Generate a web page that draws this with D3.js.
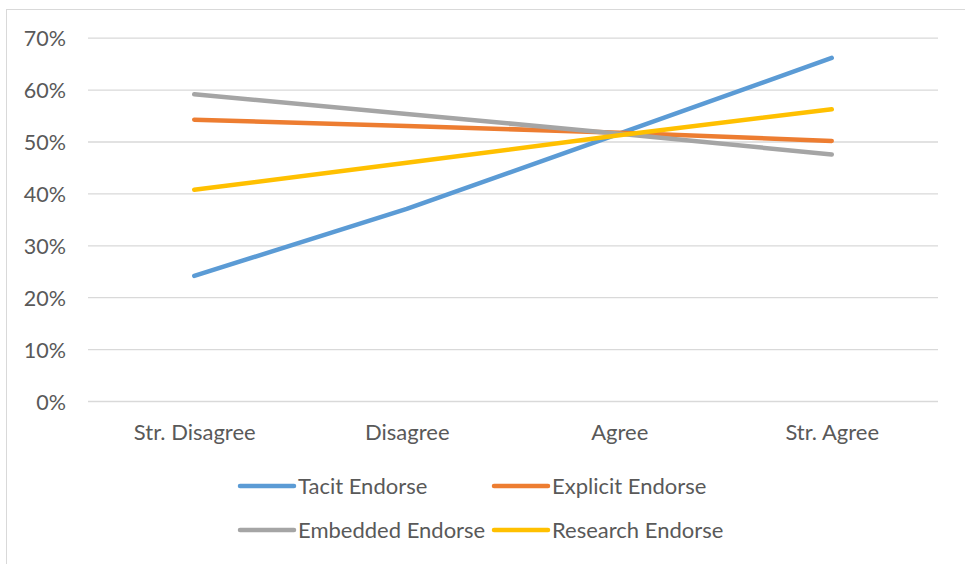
<!DOCTYPE html>
<html>
<head>
<meta charset="utf-8">
<script src="https://cdn.jsdelivr.net/npm/d3@7"></script>
<style>
  html, body { margin: 0; padding: 0; background: #fff; }
  svg { display: block; }
  text { font-family: Lato, "Open Sans", sans-serif; fill: #595959; }
</style>
</head>
<body>
<svg id="chart" width="965" height="564"></svg>
<script>
// Response categories along the x axis
const categories = ["Str. Disagree", "Disagree", "Agree", "Str. Agree"];

// Share of respondents (%) per category for each endorsement type
const tacit     = [24.2, 37.1, 51.6, 66.2];
const explicit  = [54.3, 53.1, 51.8, 50.2];
const embedded  = [59.2, 55.4, 51.6, 47.6];
const research  = [40.8, 46.0, 51.3, 56.3];

const seriesNames = ["Tacit Endorse", "Explicit Endorse", "Embedded Endorse", "Research Endorse"];
const seriesColors = ["#5B9BD5", "#ED7D31", "#A5A5A5", "#FFC000"];
const yTicks = [0, 10, 20, 30, 40, 50, 60, 70];

const series = [tacit, explicit, embedded, research].map((values, i) => ({
  name: seriesNames[i], color: seriesColors[i], values
}));

const FONT = "Lato, 'Open Sans', sans-serif";
const svg = d3.select("#chart");
const plot = { left: 88, right: 938, top: 38.2, bottom: 401.5 };

// Chart frame
svg.append("rect")
  .attr("x", 6.5).attr("y", 9.5)
  .attr("width", 1000).attr("height", 600)
  .attr("fill", "none").attr("stroke", "#D9D9D9").attr("stroke-width", 1);

const x = d3.scalePoint().domain(categories).range([plot.left, plot.right]).padding(0.5);
const y = d3.scaleLinear().domain([0, 70]).range([plot.bottom, plot.top]);

// Horizontal gridlines
svg.append("g")
  .selectAll("line").data(yTicks).join("line")
  .attr("x1", plot.left).attr("x2", plot.right)
  .attr("y1", d => y(d)).attr("y2", d => y(d))
  .attr("stroke", "#D9D9D9").attr("stroke-width", 1.3);

// Y axis labels
const yAxis = d3.axisLeft(y).tickValues(yTicks).tickSize(0).tickPadding(0).tickFormat(d => d + "%");
svg.append("g")
  .attr("transform", `translate(66,0)`)
  .call(yAxis)
  .call(g => g.select(".domain").remove())
  .call(g => g.selectAll("text").attr("font-size", 21.5).attr("fill", "#595959")
    .attr("font-family", FONT).attr("dy", "0.35em"));

// X axis labels
const xAxis = d3.axisBottom(x).tickSize(0).tickPadding(0);
svg.append("g")
  .attr("transform", `translate(0,0)`)
  .call(xAxis)
  .call(g => g.select(".domain").remove())
  .call(g => g.selectAll("text").attr("font-size", 22).attr("fill", "#595959")
    .attr("font-family", FONT).attr("y", 440).attr("dy", null));

// Series lines
const line = d3.line()
  .x((d, i) => x(categories[i]))
  .y(d => y(d));

svg.append("g")
  .selectAll("path").data(series).join("path")
  .attr("d", d => line(d.values))
  .attr("fill", "none")
  .attr("stroke", d => d.color)
  .attr("stroke-width", 4.5)
  .attr("stroke-linecap", "round")
  .attr("stroke-linejoin", "round");

// Legend, two rows of two
const legendPos = [[240, 486], [494, 486], [240, 530], [494, 530]];
const legend = svg.append("g")
  .selectAll("g").data(series).join("g")
  .attr("transform", (d, i) => `translate(${legendPos[i][0]},${legendPos[i][1]})`);
legend.append("line")
  .attr("x1", 0).attr("x2", 54).attr("y1", 0).attr("y2", 0)
  .attr("stroke", d => d.color).attr("stroke-width", 4.5).attr("stroke-linecap", "round");
legend.append("text")
  .attr("x", 58).attr("y", 0).attr("dy", "0.35em")
  .attr("font-size", 22)
  .text(d => d.name);
</script>
</body>
</html>
